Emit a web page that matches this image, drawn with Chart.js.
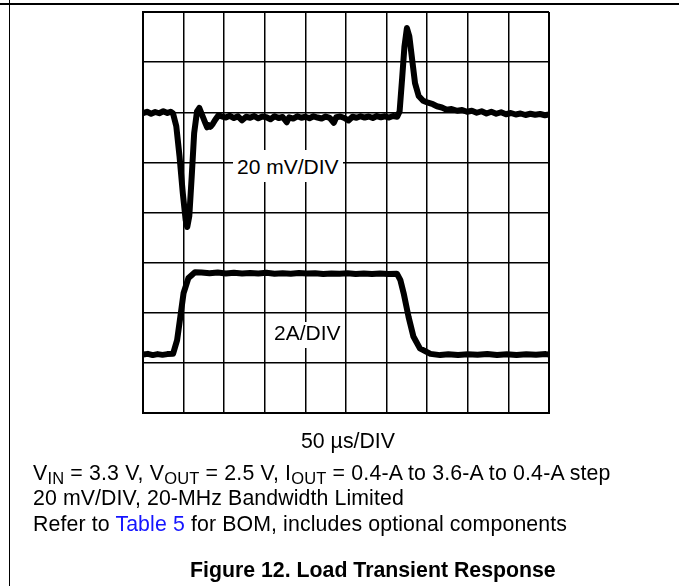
<!DOCTYPE html>
<html>
<head>
<meta charset="utf-8">
<script src="https://cdn.jsdelivr.net/npm/chart.js@4.4.1/dist/chart.umd.min.js"></script>
<style>
  html, body { margin: 0; padding: 0; background: #fff; }
  #page { position: relative; width: 679px; height: 586px; overflow: hidden;
          font-family: "Liberation Sans", Arial, sans-serif; color: #000; }
  #chartBox { position: absolute; left: 0; top: 0; width: 679px; height: 586px; }
  .rule-top { position: absolute; left: 0; top: 3px; width: 679px; height: 2px; background: #000; }
  .rule-left { position: absolute; left: 8.5px; top: 0; width: 1.8px; height: 586px; background: #000; }
  .txt { position: absolute; font-size: 21.3px; line-height: 21.3px; white-space: nowrap; }
  .lbl { background: #fff; font-size: 21px; line-height: 21px; }
  sub { font-size: 16.5px; vertical-align: -4px; line-height: 0; }
  .link { color: #1515ff; }
  .title { font-weight: bold; }
</style>
</head>
<body>
<div id="page">
  <div id="chartBox"><canvas id="chart"></canvas></div>
  <div class="rule-top"></div>
  <div class="rule-left"></div>

  <div class="txt lbl" style="left:233px; top:150px; padding:5.5px 4px 5.5px 4px;">20 mV/DIV</div>
  <div class="txt lbl" style="left:270px; top:321.5px; padding:0.7px 4px 5px 4px;">2A/DIV</div>

  <div class="txt" style="left:301px; top:431px;">50 µs/DIV</div>
  <div class="txt" style="left:33px; top:463px; letter-spacing:0.17px;">V<sub>IN</sub> = 3.3 V, V<sub>OUT</sub> = 2.5 V, I<sub>OUT</sub> = 0.4-A to 3.6-A to 0.4-A step</div>
  <div class="txt" style="left:33px; top:488px; letter-spacing:0.1px;">20 mV/DIV, 20-MHz Bandwidth Limited</div>
  <div class="txt" style="left:33px; top:514px; letter-spacing:0.12px;">Refer to <span class="link">Table 5</span> for BOM, includes optional components</div>
  <div class="txt title" style="left:190px; top:559.5px;">Figure 12. Load Transient Response</div>
</div>

<script>
// time base: 50 us/DIV, 10 divisions
const xMin = 0, xMax = 500, xStep = 50;
// output voltage deviation, 20 mV/DIV, 8 divisions
const vMin = -120, vMax = 40, vStep = 20;
// load current, 2 A/DIV
const iMin = -2, iMax = 14;

// output voltage trace (us, mV)
const vTime = [0, 5, 10, 15, 20, 25, 30, 34, 37,
  41, 45, 49, 52.5, 54.5, 57, 60, 63, 66.5, 69.4, 72.7, 76.8, 79, 81, 83, 86, 89, 93, 97,
  102, 107, 112, 117, 122, 127, 132, 137, 142, 147, 152, 157, 162, 167, 172, 177, 180, 185,
  190, 195, 200, 205, 210, 215, 220, 225, 230, 235, 238, 243, 248, 253, 258, 263, 268, 273,
  278, 283, 288, 293, 298, 303, 308, 313,
  316, 319, 322, 325, 328, 332, 335, 339.5, 345, 351, 357, 362, 368, 374, 380, 387, 393,
  399, 405, 411, 417, 423, 429, 435, 441, 447, 453, 459, 465, 471, 477, 483, 489, 495, 500];
const vOut = [-0.4, 0.2, -0.6, 0.1, -0.4, 0.4, -0.3, 0.2, -0.5,
  -5.6, -17.6, -32.2, -42.9, -45.8, -41.5, -25.6, -8.3, 0.3, 1.7, -1.0, -4.3, -6.0, -5.2, -5.8, -4.6, -3.0, -1.2, -1.6,
  -2.1, -1.4, -2.3, -1.6, -3.2, -1.8, -2.2, -1.5, -2.4, -1.7, -2.0, -2.8, -1.6, -2.3, -1.9, -4.0, -2.0, -2.5,
  -1.6, -2.2, -1.8, -2.4, -1.6, -2.1, -2.5, -1.7, -2.2, -4.2, -2.0, -1.7, -2.3, -3.3, -1.8, -2.2, -1.6, -2.1,
  -1.7, -2.3, -1.5, -2.0, -1.6, -2.1, -1.5, -1.8,
  0.3, 13.0, 26.3, 33.6, 30.3, 19.6, 11.6, 6.5, 4.6, 3.8, 3.2, 2.4, 1.9, 1.0, 1.3, 0.6, 0.9,
  0.2, 0.6, -0.2, 0.4, -0.5, 0.2, -0.6, 0.0, -0.8, -0.3, -0.9, -0.5, -1.1, -0.6, -1.0, -0.7, -1.2, -0.9];

// load current trace (us, A)
const iTime = [0, 6, 12, 18, 24, 30, 37, 42, 46, 50, 56, 64,
  72, 82, 92, 102, 112, 122, 132, 142, 152, 162, 172, 182, 192, 202, 212, 222, 232, 242,
  252, 262, 272, 282, 292, 302, 312.7,
  317, 321, 327, 333, 341, 354, 366, 376, 388, 400, 412, 424, 436, 448, 460, 472, 484, 496, 500];
const iOut = [0.33, 0.36, 0.31, 0.35, 0.32, 0.35, 0.36, 0.91, 1.84, 2.79, 3.39, 3.62,
  3.61, 3.58, 3.61, 3.57, 3.60, 3.57, 3.59, 3.57, 3.60, 3.56, 3.58, 3.56, 3.59, 3.57, 3.58, 3.55, 3.57, 3.56,
  3.58, 3.55, 3.57, 3.55, 3.57, 3.55, 3.56,
  3.30, 2.78, 1.84, 1.05, 0.58, 0.36, 0.31, 0.34, 0.31, 0.34, 0.32, 0.35, 0.31, 0.34, 0.31, 0.34, 0.32, 0.35, 0.33];

const vPoints = vTime.map((t, k) => ({ x: t, y: vOut[k] }));
const iPoints = iTime.map((t, k) => ({ x: t, y: iOut[k] }));

const edgeWidth = (ctx, lo, hi) =>
  (ctx.tick && (ctx.tick.value === lo || ctx.tick.value === hi)) ? 2 : 1.5;

new Chart(document.getElementById('chart'), {
  type: 'line',
  data: {
    datasets: [
      {
        data: vPoints,
        yAxisID: 'y',
        borderColor: '#000',
        borderWidth: 6,
        pointRadius: 0,
        tension: 0,
        borderJoinStyle: 'round',
      },
      {
        data: iPoints,
        yAxisID: 'yI',
        borderColor: '#000',
        borderWidth: 6,
        pointRadius: 0,
        tension: 0,
        borderJoinStyle: 'round',
      },
    ],
  },
  options: {
    responsive: true,
    maintainAspectRatio: false,
    animation: false,
    layout: { padding: { left: 143, top: 12, right: 130, bottom: 173 } },
    plugins: { legend: { display: false }, tooltip: { enabled: false } },
    scales: {
      x: {
        type: 'linear',
        min: xMin,
        max: xMax,
        ticks: { display: false, stepSize: xStep },
        grid: { color: '#000', drawTicks: false, lineWidth: (c) => edgeWidth(c, xMin, xMax) },
        border: { display: true, color: '#000', width: 2 },
      },
      y: {
        min: vMin,
        max: vMax,
        ticks: { display: false, stepSize: vStep },
        grid: { color: '#000', drawTicks: false, lineWidth: (c) => edgeWidth(c, vMin, vMax) },
        border: { display: true, color: '#000', width: 2 },
      },
      yI: {
        display: false,
        min: iMin,
        max: iMax,
      },
    },
  },
});
</script>
</body>
</html>
